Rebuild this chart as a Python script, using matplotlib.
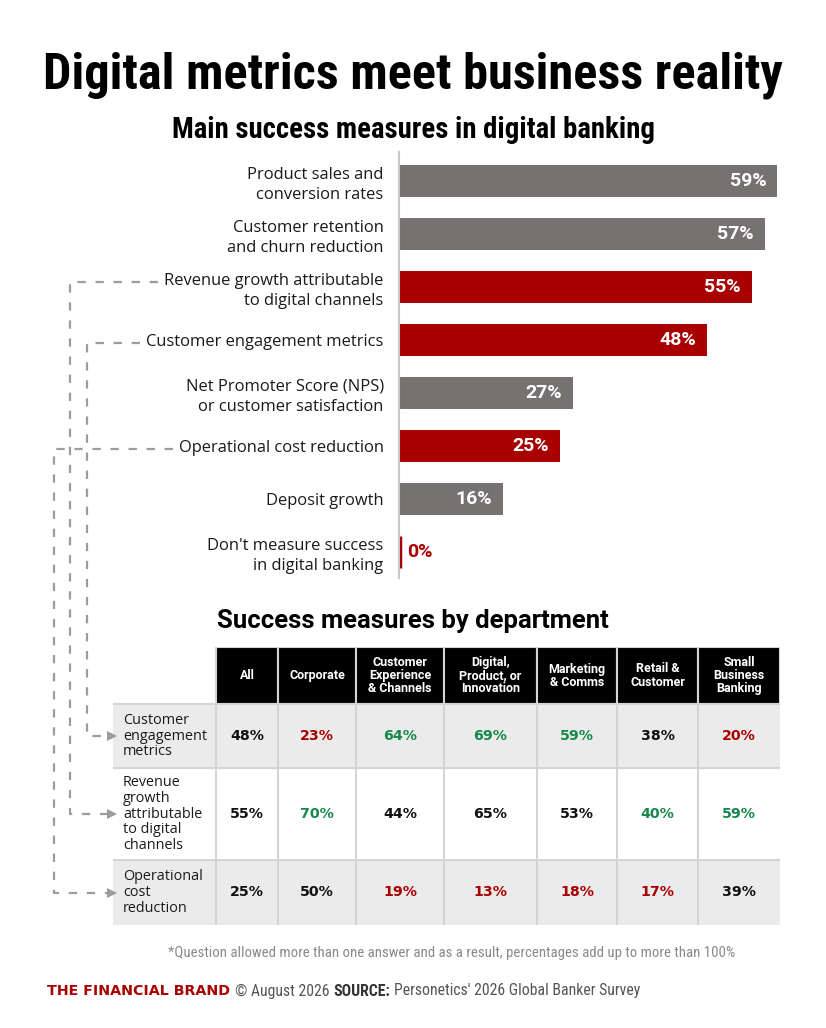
import matplotlib
matplotlib.use('Agg')
import matplotlib.pyplot as plt
from matplotlib.patches import Rectangle
from matplotlib import font_manager

plt.rcParams['lines.scale_dashes'] = False

# ---------------- data ----------------
categories = ["Product sales and\nconversion rates",
              "Customer retention\nand churn reduction",
              "Revenue growth attributable\nto digital channels",
              "Customer engagement metrics",
              "Net Promoter Score (NPS)\nor customer satisfaction",
              "Operational cost reduction",
              "Deposit growth",
              "Don't measure success\nin digital banking"]
values = [59, 57, 55, 48, 27, 25, 16, 0]
highlight = [False, False, True, True, False, True, False, True]

departments = ["All", "Corporate", "Customer\nExperience\n& Channels",
               "Digital,\nProduct, or\nInnovation", "Marketing\n& Comms",
               "Retail &\nCustomer", "Small\nBusiness\nBanking"]
row_labels = ["Customer\nengagement\nmetrics",
              "Revenue\ngrowth\nattributable\nto digital\nchannels",
              "Operational\ncost\nreduction"]
engagement = [48, 23, 64, 69, 59, 38, 20]
revenue = [55, 70, 44, 65, 53, 40, 59]
operational = [25, 50, 19, 13, 18, 17, 39]
# h = notably higher, l = notably lower, '' = neutral
engagement_flag = ['', 'l', 'h', 'h', 'h', '', 'l']
revenue_flag = ['', 'h', '', '', '', 'h', 'h']
operational_flag = ['', '', 'l', 'l', 'l', 'l', '']
# which bar category feeds which table row
links = {3: 0, 2: 1, 5: 2}

# ---------------- styles ----------------
W, H = 826, 1028
GRAY = '#767271'
RED = '#A80000'
GREEN = '#16884A'
DASH = '#9c9c9c'
BODY = 'Open Sans'
names = {f.name for f in font_manager.fontManager.ttflist}
COND = 'Roboto Condensed' if 'Roboto Condensed' in names else 'Roboto'

fig = plt.figure(figsize=(W / 100, H / 100), dpi=100)
fig.patch.set_facecolor('white')


def fx(x):
    return x / W


def fy(y):
    return 1 - y / H


def fit(t, width):
    r = fig.canvas.get_renderer()
    bb = t.get_window_extent(r)
    t.set_fontsize(t.get_fontsize() * width / bb.width)


title = fig.text(fx(413), fy(75), "Digital metrics meet business reality",
                 ha='center', va='center', family=COND,
                 weight='bold', fontsize=30, color='black')
fit(title, 740)
sub = fig.text(fx(413), fy(130), "Main success measures in digital banking",
               ha='center', va='center', family=COND,
               weight='bold', fontsize=19, color='black')
fit(sub, 483)

# ---------------- bar chart ----------------
px_per_pct = 6.39
ax = fig.add_axes([fx(399), fy(578), (800 - 399) / W, (578 - 152) / H])
n = len(values)
ypos = list(range(n))
colors = [RED if h else GRAY for h in highlight]
ax.barh(ypos, values, height=0.6, color=colors,
        edgecolor=[c if v == 0 else 'none' for c, v in zip(colors, values)],
        linewidth=2.5, left=0.2)
ax.set_xlim(0, (800 - 399) / px_per_pct)
ax.set_ylim(7 + 26 / 53, -29 / 53)
for s in ['top', 'right', 'bottom']:
    ax.spines[s].set_visible(False)
ax.spines['left'].set_color('#c8c8c8')
ax.spines['left'].set_linewidth(1.5)
ax.set_xticks([])
ax.set_yticks(ypos)
ax.set_yticklabels(categories, family=BODY, fontsize=11.9, color='#1a1a1a',
                   linespacing=1.36)
ax.tick_params(axis='y', length=0, pad=11)
for y, v, h in zip(ypos, values, highlight):
    if v > 5:
        ax.text(v - 1.5, y, f"{v}%", ha='right', va='center', color='white',
                family='Roboto', weight='bold', fontsize=14)
    else:
        ax.text(v + 1.3, y, f"{v}%", ha='left', va='center',
                color=RED if h else GRAY, family='Roboto', weight='bold',
                fontsize=14)

# ---------------- table ----------------
tt = fig.text(fx(413), fy(621), "Success measures by department",
              ha='center', va='center', family='Roboto', weight='bold',
              fontsize=18, color='black')
fit(tt, 390)

col_w = [103, 62, 78, 88, 93, 80, 81, 82]
row_h = [57, 64, 92, 65]
tx0, ty0 = 113, 647
tw, th = sum(col_w), sum(row_h)
tax = fig.add_axes([fx(tx0), fy(ty0 + th), tw / W, th / H])
tax.set_xlim(0, tw)
tax.set_ylim(th, 0)
tax.axis('off')

xs = [0]
for w in col_w:
    xs.append(xs[-1] + w)
ys = [0]
for h in row_h:
    ys.append(ys[-1] + h)

rows = [engagement, revenue, operational]
flags = [engagement_flag, revenue_flag, operational_flag]
fillc = ['#ebebeb', 'white', '#ebebeb']
flag_color = {'': '#111111', 'h': GREEN, 'l': RED}
LINE = '#d4d4d4'

# header
for j, dep in enumerate(departments):
    x0 = xs[j + 1]
    tax.add_patch(Rectangle((x0, ys[0]), col_w[j + 1], row_h[0],
                            facecolor='black', edgecolor=LINE, lw=1.5))
    tax.text(x0 + col_w[j + 1] / 2, ys[0] + row_h[0] / 2, dep, ha='center',
             va='center', color='white', family='Roboto', weight='bold',
             fontsize=9, linespacing=1.0)
# body
for i, (lab, vals, fl) in enumerate(zip(row_labels, rows, flags)):
    y0 = ys[i + 1]
    hgt = row_h[i + 1]
    tax.add_patch(Rectangle((0, y0), tw, hgt, facecolor=fillc[i],
                            edgecolor='none'))
    tax.plot([0, tw], [y0, y0], color=LINE, lw=1.5)
    tax.text(10, y0 + hgt / 2, lab, ha='left', va='center', family=BODY,
             fontsize=10.4, color='#1a1a1a', linespacing=1.08)
    for j, (v, f) in enumerate(zip(vals, fl)):
        tax.text(xs[j + 1] + col_w[j + 1] / 2, y0 + hgt / 2, f"{v}%",
                 ha='center', va='center', color=flag_color[f],
                 family='DejaVu Sans', weight='bold', fontsize=10.2)
for x in xs[1:-1]:
    tax.plot([x, x], [ys[1], th], color=LINE, lw=1.5)

# ---------------- connectors ----------------
fig.canvas.draw()
r = fig.canvas.get_renderer()
ov = fig.add_axes([0, 0, 1, 1], zorder=5)
ov.set_xlim(0, W)
ov.set_ylim(H, 0)
ov.axis('off')
ov.patch.set_alpha(0)
ticklabels = ax.get_yticklabels()
vert_x = {2: 70, 3: 87, 5: 54}
for cat, row in links.items():
    bb = ticklabels[cat].get_window_extent(r)
    ystart = H - bb.y1 + 9
    xstart = bb.x0 - 6
    disp = tax.transData.transform((0, ys[row + 1] + row_h[row + 1] / 2))
    yend = H - disp[1]
    vx = vert_x[cat]
    ov.plot([xstart, vx, vx, 108], [ystart, ystart, yend, yend],
            color=DASH, lw=1.6, dashes=(6, 7), solid_capstyle='butt')
    ov.plot([112], [yend], marker='>', markersize=7, color=DASH,
            markeredgewidth=0)

# ---------------- footer ----------------
fn = fig.text(fx(735), fy(953),
              "*Question allowed more than one answer and as a result, "
              "percentages add up to more than 100%",
              ha='right', va='center', family=COND,
              fontsize=9.5, color='#8a8a8a')
fit(fn, 568)

pieces = [("THE FINANCIAL BRAND", RED, 'bold', 'DejaVu Sans', 10.3),
          ("\u00a9 August 2026", '#555555', 'normal', COND, 11.3),
          ("SOURCE:", '#333333', 'bold', COND, 11.3),
          ("Personetics' 2026 Global Banker Survey", '#555555', 'normal',
           COND, 11.3)]
gaps = [5, 4, 4]
xcur = 47
for k, (txt, c, wgt, fam, fs) in enumerate(pieces):
    t = fig.text(fx(xcur), fy(991), txt, ha='left', va='center', color=c,
                 weight=wgt, family=fam, fontsize=fs)
    bb = t.get_window_extent(r)
    if k < len(gaps):
        xcur += bb.width + gaps[k]

fig.savefig('out.png', dpi=100, facecolor='white')
